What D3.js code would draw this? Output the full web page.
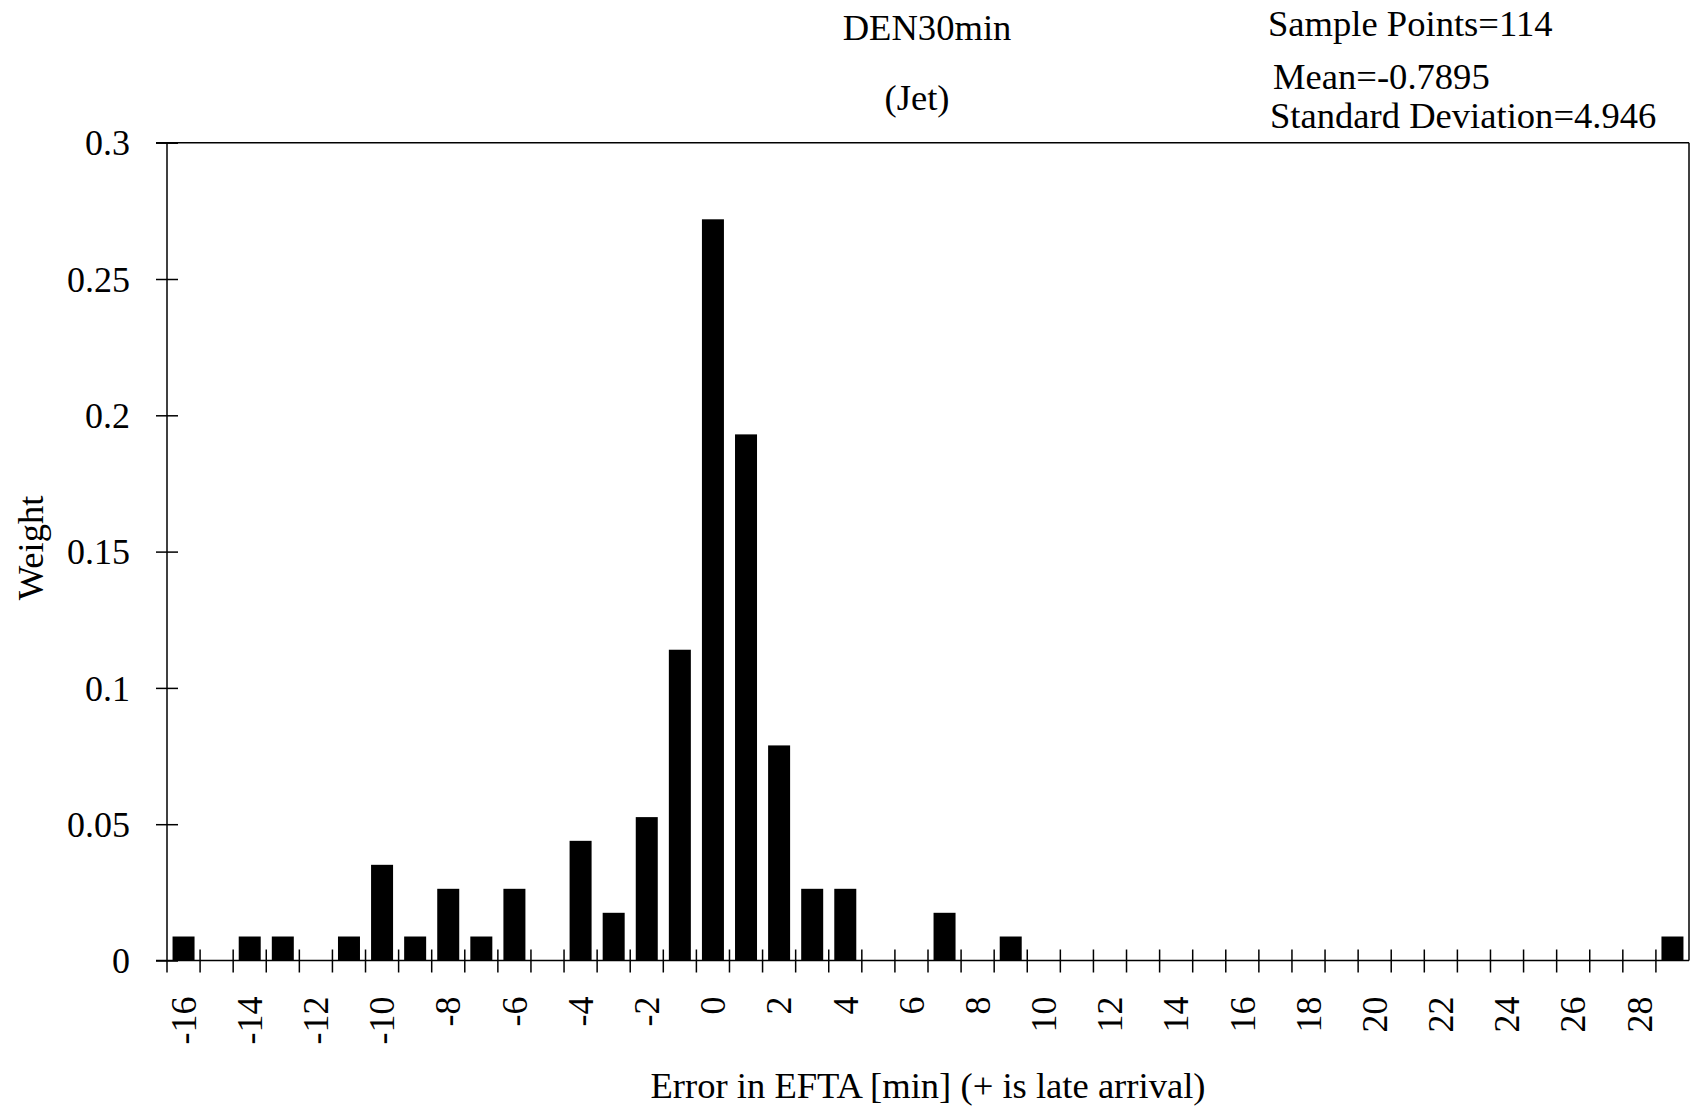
<!DOCTYPE html>
<html>
<head>
<meta charset="utf-8">
<script src="https://cdn.jsdelivr.net/npm/d3@7"></script>
<style>
  html, body { margin: 0; padding: 0; background: #fff; }
  svg { display: block; font-family: "Liberation Serif", "Times New Roman", serif; }
</style>
</head>
<body>
<svg id="chart" width="1692" height="1107"></svg>
<script>
// ---- data ----
const categories = [-16,-15,-14,-13,-12,-11,-10,-9,-8,-7,-6,-5,-4,-3,-2,-1,0,1,2,3,4,5,6,7,8,9,10,11,12,13,14,15,16,17,18,19,20,21,22,23,24,25,26,27,28,29];
const weights = [0.0088,0,0.0088,0.0088,0,0.0088,0.0351,0.0088,0.0263,0.0088,0.0263,0,0.0439,0.0175,0.0526,0.1140,0.2719,0.1930,0.0789,0.0263,0.0263,0,0,0.0175,0,0.0088,0,0,0,0,0,0,0,0,0,0,0,0,0,0,0,0,0,0,0,0.0088];
const xTickLabels = [-16,-14,-12,-10,-8,-6,-4,-2,0,2,4,6,8,10,12,14,16,18,20,22,24,26,28];
const yTicks = [0, 0.05, 0.1, 0.15, 0.2, 0.25, 0.3];
const yTickLabels = ["0", "0.05", "0.1", "0.15", "0.2", "0.25", "0.3"];
const titleText = "DEN30min";
const subtitleText = "(Jet)";
const statsLines = ["Sample Points=114", "Mean=-0.7895", "Standard Deviation=4.946"];
const xTitle = "Error in EFTA [min] (+ is late arrival)";
const yTitle = "Weight";

// ---- layout ----
const L = 167, R = 1689, T = 142.7, B = 960.5;
const FS = 36;
const FS2 = 36.6;
const svg = d3.select("#chart");

const pi = 0.335;
const x = d3.scaleBand().domain(categories).range([L, R]).paddingInner(pi).paddingOuter(pi / 2);
const y = d3.scaleLinear().domain([0, 0.3]).range([B, T]);
const boundary = d3.scaleLinear().domain([0, categories.length]).range([L, R]);

// bars
svg.append("g").selectAll("rect")
  .data(categories.map((c, i) => ({c, w: weights[i]})).filter(d => d.w > 0))
  .join("rect")
  .attr("x", d => x(d.c))
  .attr("width", x.bandwidth())
  .attr("y", d => y(d.w))
  .attr("height", d => y(0) - y(d.w))
  .attr("fill", "#000");

// frame: top and right
svg.append("line").attr("x1", L - 11).attr("x2", R).attr("y1", T).attr("y2", T)
  .attr("stroke", "#000").attr("stroke-width", 1.5);
svg.append("line").attr("x1", R).attr("x2", R).attr("y1", T).attr("y2", B)
  .attr("stroke", "#000").attr("stroke-width", 1.5);

// y axis
const yAxis = svg.append("g").attr("transform", `translate(${L},0)`)
  .call(d3.axisLeft(y).tickValues(yTicks).tickFormat((d, i) => yTickLabels[i])
    .tickSizeInner(11).tickSizeOuter(0).tickPadding(26));
yAxis.select(".domain").remove();
yAxis.selectAll(".tick line").attr("x1", 11).attr("x2", -11).attr("stroke-width", 1.5);
yAxis.selectAll(".tick text").attr("font-size", FS).attr("font-family", "Liberation Serif").attr("fill", "#000").attr("dy", "0.34em");
svg.append("line").attr("x1", L).attr("x2", L).attr("y1", T).attr("y2", B + 12)
  .attr("stroke", "#000").attr("stroke-width", 1.5);

// x axis baseline
svg.append("line").attr("x1", L - 11).attr("x2", R).attr("y1", B).attr("y2", B)
  .attr("stroke", "#000").attr("stroke-width", 1.5);

// x boundary ticks (crossing)
svg.append("g").selectAll("line")
  .data(d3.range(1, categories.length))
  .join("line")
  .attr("x1", d => boundary(d)).attr("x2", d => boundary(d))
  .attr("y1", B - 11).attr("y2", B + 12)
  .attr("stroke", "#000").attr("stroke-width", 1.5);

// x labels
const xAxis = svg.append("g").attr("transform", `translate(0,${B})`)
  .call(d3.axisBottom(x).tickValues(xTickLabels).tickSize(0).tickPadding(0));
xAxis.select(".domain").remove();
xAxis.selectAll(".tick text")
  .attr("font-size", FS).attr("font-family", "Liberation Serif").attr("fill", "#000")
  .attr("text-anchor", "end")
  .attr("transform", "translate(0,36) rotate(-90)")
  .attr("x", 0).attr("y", 0).attr("dy", "0.34em");

// titles
svg.append("text").attr("x", 927).attr("y", 40).attr("text-anchor", "middle")
  .attr("font-size", FS2).text(titleText);
svg.append("text").attr("x", 917).attr("y", 110).attr("text-anchor", "middle")
  .attr("font-size", FS2).text(subtitleText);

const statsPos = [[1268, 36], [1273, 89], [1270, 128]];
statsLines.forEach((s, i) => {
  svg.append("text").attr("x", statsPos[i][0]).attr("y", statsPos[i][1])
    .attr("font-size", FS2).text(s);
});

svg.append("text").attr("x", 928).attr("y", 1098).attr("text-anchor", "middle")
  .attr("font-size", FS2).text(xTitle);

svg.append("text").attr("transform", "translate(43,548) rotate(-90)")
  .attr("text-anchor", "middle").attr("font-size", FS2).text(yTitle);
</script>
</body>
</html>
